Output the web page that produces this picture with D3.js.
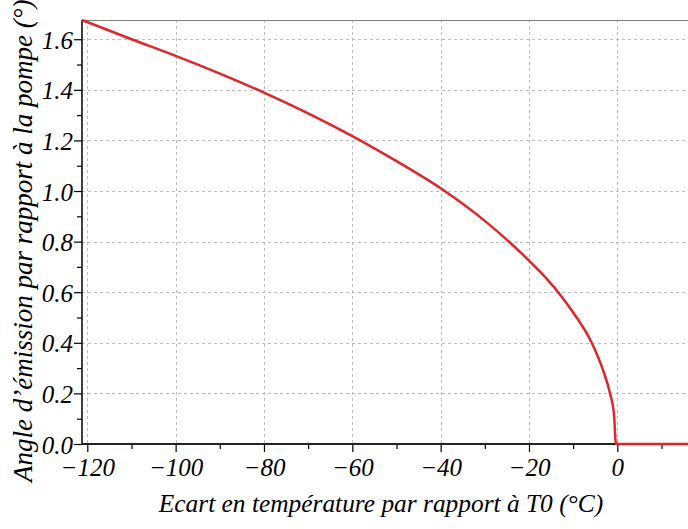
<!DOCTYPE html>
<html>
<head>
<meta charset="utf-8">
<script src="https://cdn.jsdelivr.net/npm/d3@7"></script>
<style>
  html, body { margin: 0; padding: 0; background: #fff; }
  svg { display: block; }
  text { font-family: "Liberation Serif", "Times New Roman", serif; font-style: italic; fill: #000; }
</style>
</head>
<body>
<script>
// ---- data ----
const tempOffset = [-121.2, -110, -100, -90, -80, -70, -60, -50, -40, -30, -20, -17.5, -13.4, -10, -5.8, -3.2, -1.65, -0.75, -0.3, 0, 16];
const emissionAngle = [1.676, 1.600, 1.534, 1.464, 1.389, 1.307, 1.217, 1.118, 1.011, 0.882, 0.725, 0.681, 0.600, 0.520, 0.400, 0.290, 0.200, 0.115, 0, 0, 0];
const xMajorTicks = [-120, -100, -80, -60, -40, -20, 0];
const xMinorTicks = [-110, -90, -70, -50, -30, -10, 10];
const yMajorTicks = [0.0, 0.2, 0.4, 0.6, 0.8, 1.0, 1.2, 1.4, 1.6];
const yMinorTicks = [0.1, 0.3, 0.5, 0.7, 0.9, 1.1, 1.3, 1.5];
const xTitle = "Ecart en température par rapport à T0 (°C)";
const yTitle = "Angle d’émission par rapport à la pompe (°)";

(function () {
const W = 688, H = 529;
const pL = 82, pR = 688, pT = 20, pB = 444;

const svg = d3.select("body").append("svg").attr("width", W).attr("height", H);

const x = d3.scaleLinear().domain([-121.2, 16.0]).range([pL, pR]);
const y = d3.scaleLinear().domain([0, 1.676]).range([pB, pT]);

// grid
const grid = svg.append("g").attr("stroke", "#bdbdbd").attr("stroke-width", 1).attr("stroke-dasharray", "3,3");
grid.selectAll("line.v").data(xMajorTicks).enter().append("line")
  .attr("x1", d => Math.round(x(d)) + 0.5).attr("x2", d => Math.round(x(d)) + 0.5)
  .attr("y1", pT).attr("y2", pB);
grid.selectAll("line.h").data(yMajorTicks.filter(d => d > 0)).enter().append("line")
  .attr("y1", d => Math.round(y(d)) + 0.5).attr("y2", d => Math.round(y(d)) + 0.5)
  .attr("x1", pL).attr("x2", pR);

// top border
svg.append("line").attr("x1", pL).attr("x2", pR).attr("y1", pT + 0.5).attr("y2", pT + 0.5)
  .attr("stroke", "#808080").attr("stroke-width", 1.2);

// axes
const xAxis = d3.axisBottom(x).tickValues(xMajorTicks).tickSize(8).tickFormat(d => d3.format("d")(d).replace("-", "\u2212"));
const gx = svg.append("g").attr("transform", `translate(0,${pB})`).call(xAxis);
gx.select(".domain").remove();
gx.selectAll(".tick line").attr("stroke", "#000").attr("stroke-width", 1.2);
gx.selectAll(".tick text").attr("font-size", 25).attr("font-family", "Liberation Serif").attr("font-style", "italic").attr("dy", 0).attr("y", 32);

const xAxisMinor = d3.axisBottom(x).tickValues(xMinorTicks.filter(d => x(d) <= pR)).tickSize(5).tickFormat("");
const gxm = svg.append("g").attr("transform", `translate(0,${pB})`).call(xAxisMinor);
gxm.select(".domain").remove();
gxm.selectAll(".tick line").attr("stroke", "#000").attr("stroke-width", 1.2);

const yAxis = d3.axisLeft(y).tickValues(yMajorTicks).tickSize(8).tickFormat(d3.format(".1f"));
const gy = svg.append("g").attr("transform", `translate(${pL},0)`).call(yAxis);
gy.select(".domain").remove();
gy.selectAll(".tick line").attr("stroke", "#000").attr("stroke-width", 1.2);
gy.selectAll(".tick text").attr("font-size", 25).attr("font-family", "Liberation Serif").attr("font-style", "italic").attr("x", -9).attr("dy", "0.36em");

const yAxisMinor = d3.axisLeft(y).tickValues(yMinorTicks).tickSize(5).tickFormat("");
const gym = svg.append("g").attr("transform", `translate(${pL},0)`).call(yAxisMinor);
gym.select(".domain").remove();
gym.selectAll(".tick line").attr("stroke", "#000").attr("stroke-width", 1.2);

// axis lines
svg.append("line").attr("x1", pL).attr("x2", pL).attr("y1", pT).attr("y2", pB)
  .attr("stroke", "#000").attr("stroke-width", 1.5);
svg.append("line").attr("x1", pL).attr("x2", pR).attr("y1", pB).attr("y2", pB)
  .attr("stroke", "#222").attr("stroke-width", 2);

// curve
const pts = tempOffset.map((t, i) => [t, emissionAngle[i]]);
const line = d3.line().x(d => x(d[0])).y(d => y(d[1])).curve(d3.curveMonotoneX);
svg.append("path").datum(pts).attr("d", line)
  .attr("fill", "none").attr("stroke", "#e0262b").attr("stroke-width", 2.5).attr("stroke-linejoin", "round");

// titles
svg.append("text").attr("x", 381).attr("y", 512).attr("text-anchor", "middle")
  .attr("font-size", 25.4).text(xTitle);
svg.append("text").attr("transform", "translate(32,482) rotate(-90)").attr("text-anchor", "start")
  .attr("font-size", 27).text(yTitle);
})();
</script>
</body>
</html>
